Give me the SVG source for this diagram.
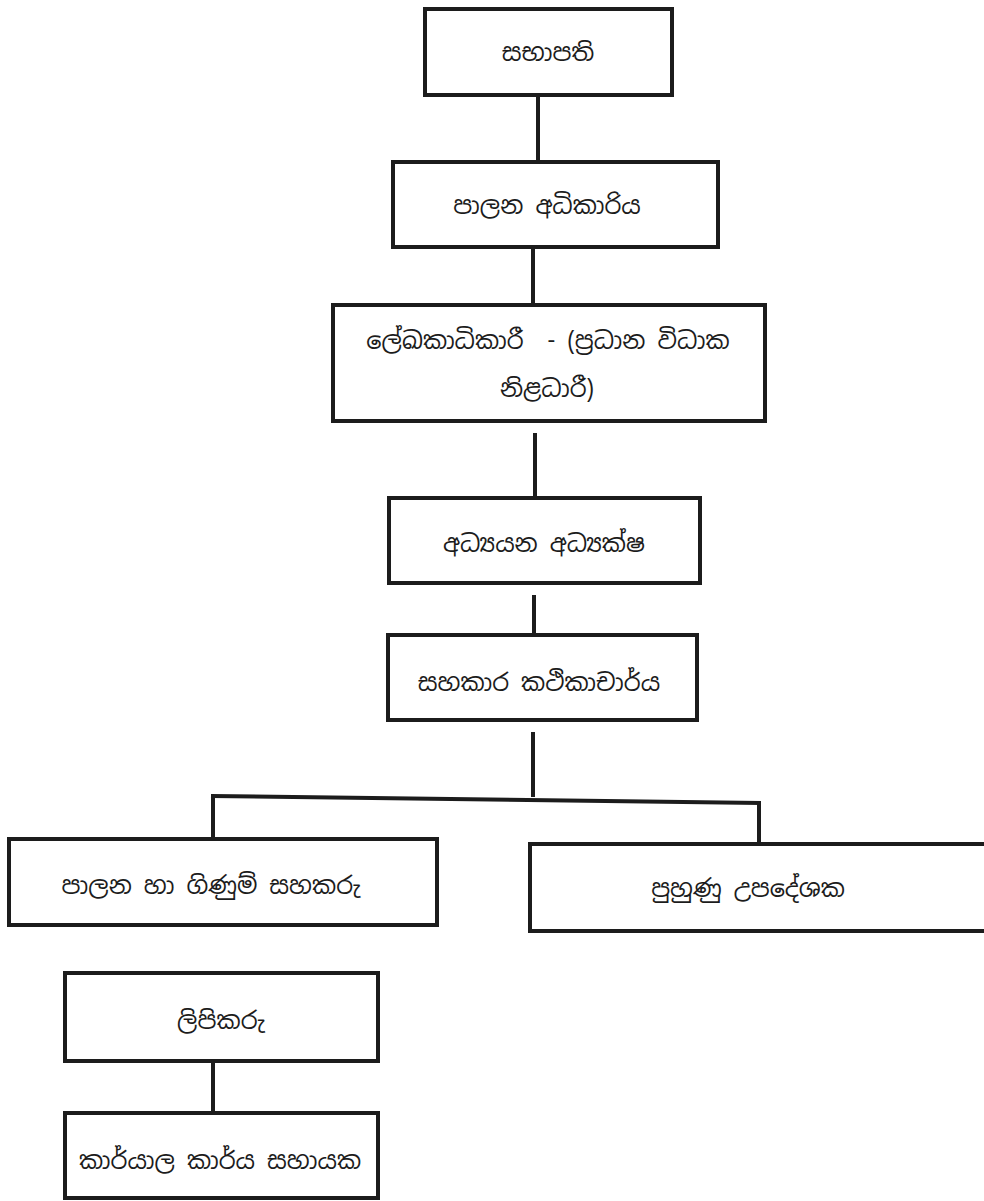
<svg xmlns="http://www.w3.org/2000/svg" width="984" height="1201" viewBox="0 0 984 1201">
<style>
.box{fill:#ffffff;stroke:#1c1c1c;stroke-width:4}
.ln{stroke:#1c1c1c;stroke-width:4;fill:none}
.t{font-family:"Noto Sans Sinhala","Noto Serif Sinhala","Iskoola Pota","Noto Sans",sans-serif;font-size:24px;fill:#1c1c1c;text-anchor:middle;dominant-baseline:central}
</style>
<rect width="984" height="1201" fill="#ffffff"/>
<g id="connectors">
<line class="ln" x1="538" y1="95" x2="538" y2="162"/>
<line class="ln" x1="533" y1="247" x2="533" y2="305"/>
<line class="ln" x1="535" y1="433" x2="535" y2="498"/>
<line class="ln" x1="534" y1="595" x2="534" y2="635"/>
<line class="ln" x1="533" y1="732" x2="533" y2="797"/>
<line class="ln" x1="211" y1="796" x2="761" y2="803"/>
<line class="ln" x1="213" y1="796" x2="213" y2="839"/>
<line class="ln" x1="759" y1="803" x2="759" y2="844"/>
<line class="ln" x1="213" y1="1061" x2="213" y2="1113"/>
</g>
<g id="n1"><rect class="box" x="425" y="9" width="247" height="86"/><text class="t" x="548" y="52">සභාපති</text></g>
<g id="n2"><rect class="box" x="393" y="162" width="325" height="85"/><text class="t" x="547" y="205">පාලන අධිකාරිය</text></g>
<g id="n3"><rect class="box" x="333" y="305" width="432" height="116"/><text class="t" x="548" y="340" xml:space="preserve">ලේඛකාධිකාරී  - (ප්‍රධාන විධාක</text><text class="t" x="547" y="388">නිළධාරී)</text></g>
<g id="n4"><rect class="box" x="389" y="498" width="311" height="85"/><text class="t" x="544" y="543">අධ්‍යයන අධ්‍යක්ෂ</text></g>
<g id="n5"><rect class="box" x="388" y="635" width="309" height="85"/><text class="t" x="539" y="682">සහකාර කථිකාචාර්ය</text></g>
<g id="n6"><rect class="box" x="9" y="839" width="428" height="86"/><text class="t" x="211" y="885">පාලන හා ගිණුම් සහකරු</text></g>
<g id="n7"><rect class="box" x="530" y="844" width="460" height="87"/><text class="t" x="748" y="888">පුහුණු උපදේශක</text></g>
<g id="n8"><rect class="box" x="65" y="973" width="313" height="88"/><text class="t" x="221" y="1020">ලිපිකරු</text></g>
<g id="n9"><rect class="box" x="65" y="1113" width="313" height="85"/><text class="t" x="220" y="1160">කාර්යාල කාර්ය සහායක</text></g>
</svg>
